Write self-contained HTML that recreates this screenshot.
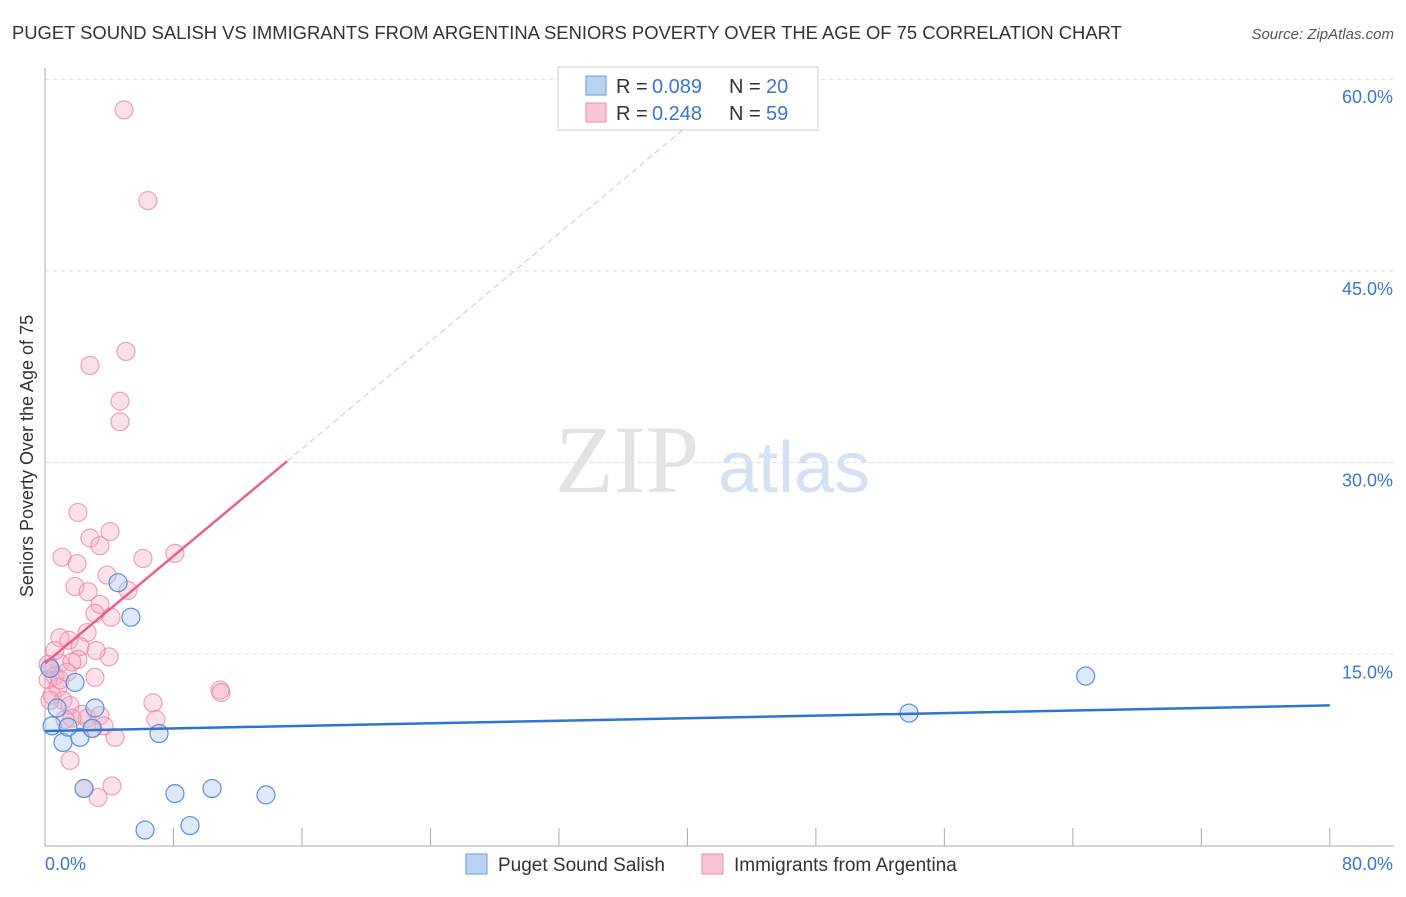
<!DOCTYPE html>
<html><head><meta charset="utf-8"><style>
body{margin:0;background:#fff;font-family:"Liberation Sans",sans-serif}
svg text{font-family:"Liberation Sans",sans-serif}
</style></head><body>
<svg width="1406" height="892" xmlns="http://www.w3.org/2000/svg">
<text x="12" y="39" font-size="18.4" fill="#333">PUGET SOUND SALISH VS IMMIGRANTS FROM ARGENTINA SENIORS POVERTY OVER THE AGE OF 75 CORRELATION CHART</text>
<text x="1394" y="39" font-size="15" fill="#555" text-anchor="end" font-style="italic">Source: ZipAtlas.com</text>
<g id="grid"></g>
<text x="555" y="492" font-size="96" fill="#e2e2e2" style="font-family:'Liberation Serif',serif">ZIP</text>
<text x="718" y="492" font-size="72" fill="#d3e1f3">atlas</text>
<g id="axes"></g>
<g id="pts"></g>
<g id="trend"></g>
<text transform="translate(33,456) rotate(-90)" font-size="18" fill="#333" text-anchor="middle">Seniors Poverty Over the Age of 75</text>
<g>
<rect x="558" y="67" width="260" height="63" fill="#fff" stroke="#ccc"/>
<rect x="586" y="76" width="20" height="19" fill="#b9d3f3" stroke="#6a9ad8"/>
<text x="616" y="93" font-size="20" fill="#333">R =</text>
<text x="652" y="93" font-size="20" fill="#3a75d0">0.089</text>
<text x="729" y="93" font-size="20" fill="#333">N =</text>
<text x="766" y="93" font-size="20" fill="#3a75d0">20</text>
<rect x="586" y="103" width="20" height="19" fill="#f9c5d5" stroke="#e88aa8"/>
<text x="616" y="120" font-size="20" fill="#333">R =</text>
<text x="652" y="120" font-size="20" fill="#3a75d0">0.248</text>
<text x="729" y="120" font-size="20" fill="#333">N =</text>
<text x="766" y="120" font-size="20" fill="#3a75d0">59</text>
</g>
<g>
<rect x="466" y="854" width="21" height="20" fill="#b9d3f3" stroke="#6a9ad8"/>
<text x="498" y="871" font-size="19" fill="#333">Puget Sound Salish</text>
<rect x="702" y="854" width="21" height="20" fill="#f9c5d5" stroke="#e88aa8"/>
<text x="734" y="871" font-size="19" fill="#333">Immigrants from Argentina</text>
</g>
</svg>
<script>
const yTicks=[15,30,45,60];
const yTickLabels=["15.0%","30.0%","45.0%","60.0%"];
const xTicks=[0,8,16,24,32,40,48,56,64,72,80];
const blueX=[0.44,0.75,1.12,1.87,2.18,2.43,2.93,3.11,4.55,5.35,6.23,7.10,8.09,9.03,10.4,13.76,53.8,64.8,0.31,1.43];
const blueY=[9.4,10.8,8.1,12.8,8.5,4.5,9.2,10.8,20.6,17.9,1.25,8.8,4.1,1.6,4.5,4.0,10.4,13.3,13.9,9.3];
const pinkX=[4.92,6.41,5.04,2.80,4.67,4.67,2.05,4.05,2.80,3.42,1.06,2.00,6.10,8.09,3.86,1.87,2.68,5.17,3.42,3.11,4.11,2.62,0.93,1.49,2.18,3.99,3.18,2.05,0.93,1.68,0.31,0.62,0.19,0.81,0.44,1.12,1.56,2.30,2.62,1.68,3.42,3.67,2.99,4.36,1.56,2.43,3.30,4.17,6.72,6.91,10.9,10.96,3.11,0.62,0.19,0.93,0.31,1.25,1.37];
const pinkY=[57.6,50.5,38.7,37.6,34.8,33.2,26.1,24.6,24.1,23.5,22.6,22.1,22.5,22.9,21.2,20.3,19.9,20.0,18.9,18.2,17.9,16.7,16.3,16.1,15.6,14.8,15.3,14.6,14.3,14.4,13.9,13.3,13.0,12.4,11.8,11.4,11.0,10.3,10.0,10.0,10.2,9.4,9.2,8.5,6.7,4.5,3.8,4.7,11.2,9.9,12.2,12.0,13.2,15.3,14.2,13.0,11.4,9.9,13.6];
const blueTrend=[[0,9.0],[80,11.0]];
const pinkTrend=[[0,14.3],[15.07,30.1]];
const pinkTrendExt=[[15.07,30.1],[41,57.4]];
const NS="http://www.w3.org/2000/svg";
const X=v=>45+v*16.06, Y=v=>846-v*12.78;
function mk(t,a,p){const e=document.createElementNS(NS,t);for(const k in a)e.setAttribute(k,a[k]);p.appendChild(e);return e;}
const grid=document.getElementById('grid'),axes=document.getElementById('axes'),pts=document.getElementById('pts'),tr=document.getElementById('trend');
yTicks.forEach((v,i)=>{
 const l=mk('line',{x1:45,x2:1394,y1:Y(v),y2:Y(v),stroke:'#ddd','stroke-dasharray':'4,4'},grid);
 
 
 const t=mk('text',{x:1393,y:Y(v)+24,'font-size':18,fill:'#3a75d0','text-anchor':'end'},axes);
 t.textContent=yTickLabels[i];
 
 
});
const ax=mk('line',{x1:45,x2:45,y1:68,y2:846,stroke:'#aaa'},axes);


const bx=mk('line',{x1:45,x2:1394,y1:846,y2:846,stroke:'#aaa'},axes);


xTicks.forEach(v=>{const l=mk('line',{x1:X(v),x2:X(v),y1:828,y2:846,stroke:'#aaa'},axes);
 
 });
const x0=mk('text',{x:45,y:870,'font-size':18,fill:'#3a75d0'},axes);x0.textContent='0.0%';


const x1=mk('text',{x:1393,y:870,'font-size':18,fill:'#3a75d0','text-anchor':'end'},axes);x1.textContent='80.0%';


pinkX.forEach((v,i)=>{const c=mk('circle',{cx:X(v),cy:Y(pinkY[i]),r:9,fill:'rgba(246,170,195,0.35)',stroke:'rgba(232,137,168,0.8)','stroke-width':1.2},pts);
 
 });
blueX.forEach((v,i)=>{const c=mk('circle',{cx:X(v),cy:Y(blueY[i]),r:9,fill:'rgba(170,200,240,0.4)',stroke:'#5a8fd8','stroke-width':1.2},pts);
 
 });
const bt=mk('line',{x1:X(blueTrend[0][0]),y1:Y(blueTrend[0][1]),x2:X(blueTrend[1][0]),y2:Y(blueTrend[1][1]),stroke:'#2f73d6','stroke-width':2.5},tr);


const pt=mk('line',{x1:X(pinkTrend[0][0]),y1:Y(pinkTrend[0][1]),x2:X(pinkTrend[1][0]),y2:Y(pinkTrend[1][1]),stroke:'#e8608a','stroke-width':2.5},tr);


const pe=mk('line',{x1:X(pinkTrendExt[0][0]),y1:Y(pinkTrendExt[0][1]),x2:X(pinkTrendExt[1][0]),y2:Y(pinkTrendExt[1][1]),stroke:'#e8b8c8','stroke-width':1,'stroke-dasharray':'6,4'},tr);


</script>
</body></html>
